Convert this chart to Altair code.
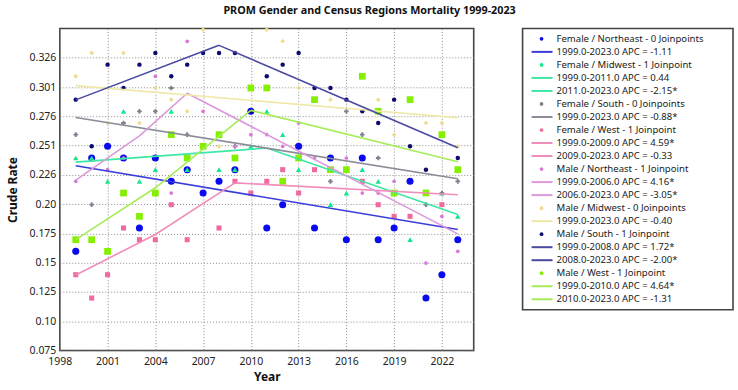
import altair as alt
import pandas as pd

# ---------------- data ----------------
years = list(range(1999, 2024))
series_names = [
    "Female / Northeast", "Female / Midwest", "Female / South", "Female / West",
    "Male / Northeast", "Male / Midwest", "Male / South", "Male / West",
]
female_northeast = [0.16, 0.24, 0.25, 0.24, 0.18, 0.24, 0.22, 0.23, 0.21, 0.22, 0.23, 0.28, 0.18,
                    0.20, 0.25, 0.18, 0.24, 0.17, 0.24, 0.17, 0.18, 0.22, 0.12, 0.14, 0.17]
female_midwest = [0.24, 0.24, 0.22, 0.28, 0.22, 0.23, 0.28, 0.23, None, 0.23, 0.23, 0.25, 0.28,
                  0.26, 0.23, None, 0.20, 0.21, 0.23, 0.22, None, 0.17, None, 0.21, 0.19]
female_south = [0.26, 0.20, None, 0.27, 0.28, 0.28, 0.30, 0.26, None, None, 0.25, None, None,
                None, None, None, 0.22, 0.28, 0.26, 0.24, None, None, 0.20, 0.21, 0.22]
female_west = [0.14, 0.12, 0.14, 0.18, 0.17, 0.17, 0.20, 0.17, None, 0.18, 0.22, 0.21, 0.22,
               0.23, 0.21, 0.23, None, None, 0.22, 0.20, 0.19, 0.19, None, 0.20, None]
male_northeast = [0.22, None, 0.23, 0.24, None, 0.31, 0.21, 0.34, 0.28, None, 0.25, 0.26, 0.26,
                  0.25, 0.27, 0.24, None, 0.24, 0.21, 0.21, 0.22, None, 0.15, 0.19, 0.16]
male_midwest = [0.31, 0.33, 0.27, 0.33, 0.27, 0.30, 0.29, 0.28, 0.35, 0.25, None, None, 0.35,
                0.34, 0.30, None, 0.29, None, None, 0.29, 0.26, None, 0.27, 0.27, 0.25]
male_south = [0.29, 0.25, 0.32, 0.30, 0.32, 0.33, 0.31, 0.32, 0.33, 0.33, 0.33, 0.28, 0.31,
              0.32, 0.33, 0.30, 0.30, 0.29, 0.28, 0.27, 0.29, 0.25, 0.23, None, 0.24]
male_west = [0.17, 0.17, 0.16, 0.21, 0.19, 0.21, 0.26, 0.24, 0.25, 0.26, 0.24, 0.30, 0.30,
             0.22, 0.24, 0.29, 0.23, 0.23, 0.31, 0.28, 0.21, 0.29, 0.21, 0.26, 0.23]
observed = [female_northeast, female_midwest, female_south, female_west,
            male_northeast, male_midwest, male_south, male_west]

# fitted joinpoint segments: (series index, years, values)
trend_segments = [
    (0, [1999, 2023], [0.2334, 0.1787]),
    (1, [1999, 2011], [0.2365, 0.2485]),
    (1, [2011, 2023], [0.2485, 0.1915]),
    (2, [1999, 2023], [0.2747, 0.2222]),
    (3, [1999, 2004, 2009], [0.1397, 0.1745, 0.2187]),
    (3, [2009, 2023], [0.2187, 0.2085]),
    (4, [1999, 2003, 2006], [0.221, 0.259, 0.2955]),
    (4, [2006, 2023], [0.2955, 0.175]),
    (5, [1999, 2023], [0.302, 0.2745]),
    (6, [1999, 2008], [0.2898, 0.3365]),
    (6, [2008, 2023], [0.3365, 0.2488]),
    (7, [1999, 2004, 2010], [0.1701, 0.2145, 0.2808]),
    (7, [2010, 2023], [0.2808, 0.2368]),
]

x_ticks = [1998, 2001, 2004, 2007, 2010, 2013, 2016, 2019, 2022]
y_ticks = [0.075, 0.1001, 0.1252, 0.1503, 0.1754, 0.2004, 0.2256, 0.2506, 0.2757, 0.3008, 0.3259]

legend_labels = [
    "Female / Northeast - 0 Joinpoints", "1999.0-2023.0 APC  =  -1.11",
    "Female / Midwest - 1 Joinpoint", "1999.0-2011.0 APC  =  0.44", "2011.0-2023.0 APC  =  -2.15*",
    "Female / South - 0 Joinpoints", "1999.0-2023.0 APC  =  -0.88*",
    "Female / West - 1 Joinpoint", "1999.0-2009.0 APC  =  4.59*", "2009.0-2023.0 APC  =  -0.33",
    "Male / Northeast - 1 Joinpoint", "1999.0-2006.0 APC  =  4.16*", "2006.0-2023.0 APC  =  -3.05*",
    "Male / Midwest - 0 Joinpoints", "1999.0-2023.0 APC  =  -0.40",
    "Male / South - 1 Joinpoint", "1999.0-2008.0 APC  =  1.72*", "2008.0-2023.0 APC  =  -2.00*",
    "Male / West - 1 Joinpoint", "1999.0-2010.0 APC  =  4.64*", "2010.0-2023.0 APC  =  -1.31",
]
legend_kinds = ["point", "line", "point", "line", "line", "point", "line", "point", "line", "line",
                "point", "line", "line", "point", "line", "point", "line", "line", "point", "line", "line"]
legend_series = [0, 0, 1, 1, 1, 2, 2, 3, 3, 3, 4, 4, 4, 5, 5, 6, 6, 6, 7, 7, 7]

# ---------------- styles ----------------
point_colors = ["#0a0af0", "#14e68c", "#7c8090", "#f06aa2", "#d878d8", "#efdc8c", "#0c0c70", "#84f000"]
line_colors = ["#3c3cd8", "#3ee8a4", "#8a8c98", "#f28cba", "#dc98dc", "#f0e8a8", "#4a4aa2", "#a6ec58"]
point_shapes = ["circle", "triangle-up", "cross", "square", "circle", "diamond", "circle", "square"]
point_sizes = [50, 30, 22, 26, 14, 22, 20, 46]
FONT = "Noto Sans"

# ---------------- tables ----------------
prow = []
for si, vals in enumerate(observed):
    for yr, v in zip(years, vals):
        if v is not None:
            prow.append({"year": yr, "value": v, "sidx": si,
                         "col": point_colors[si], "shp": point_shapes[si], "sz": point_sizes[si]})
points_df = pd.DataFrame(prow)

lrow = []
for k, (si, ys, vs) in enumerate(trend_segments):
    for yr, v in zip(ys, vs):
        lrow.append({"year": yr, "value": v, "seg": k, "col": line_colors[si], "ord": yr})
lines_df = pd.DataFrame(lrow)

legend_df = pd.DataFrame({
    "row": list(range(len(legend_labels))),
    "label": legend_labels,
    "kind": legend_kinds,
    "pcol": [point_colors[s] for s in legend_series],
    "lcol": [line_colors[s] for s in legend_series],
})

# ---------------- main chart ----------------
W, H = 415, 323
xs = alt.X("year:Q", scale=alt.Scale(domain=[1998, 2024], nice=False, zero=False),
           axis=alt.Axis(values=x_ticks, format="d", title="Year", grid=True, tickCount=30,
                         gridDash=[1, 2], gridColor="#8c8c8c", gridWidth=1,
                         ticks=False, domain=False, labelPadding=6, titlePadding=5,
                         labelFlush=False, labelOverlap=False,
                         labelFont=FONT, labelFontSize=10.5, labelColor="#222",
                         titleFont=FONT, titleFontSize=12, titleFontWeight="bold", titleColor="#111"))
ys = alt.Y("value:Q", scale=alt.Scale(domain=[0.075, 0.351], nice=False, zero=False),
           axis=alt.Axis(values=y_ticks, tickCount=30,
                         labelExpr="substring(format(datum.value,'.3f'),4,5)=='0' ? format(datum.value,'.2f') : format(datum.value,'.3f')",
                         title="Crude Rate", grid=True,
                         gridDash=[1, 2], gridColor="#8c8c8c", gridWidth=1,
                         ticks=False, domain=False, labelPadding=4, titlePadding=10,
                         labelFlush=False, labelOverlap=False,
                         labelFont=FONT, labelFontSize=10.5, labelColor="#222",
                         titleFont=FONT, titleFontSize=12, titleFontWeight="bold", titleColor="#111"))

pts = alt.Chart(points_df).mark_point(filled=True, opacity=1).encode(
    x=xs, y=ys,
    color=alt.Color("col:N", scale=None),
    shape=alt.Shape("shp:N", scale=None),
    size=alt.Size("sz:Q", scale=None),
    order=alt.Order("sidx:Q"),
)
lns = alt.Chart(lines_df).mark_line(strokeWidth=1.6).encode(
    x="year:Q", y="value:Q",
    detail="seg:N",
    color=alt.Color("col:N", scale=None),
    order="ord:Q",
)
main = alt.layer(pts, lns).properties(width=W, height=H)

# ---------------- legend ----------------
LH = 282
lbase = alt.Chart(legend_df).encode(
    y=alt.Y("row:O", axis=None, scale=alt.Scale(paddingOuter=0.3, paddingInner=0)))
leg_pts = lbase.transform_filter("datum.kind == 'point'").mark_point(
    filled=True, size=14, opacity=1).encode(x=alt.value(19), color=alt.Color("pcol:N", scale=None))
leg_lns = lbase.transform_filter("datum.kind == 'line'").mark_rule(strokeWidth=2).encode(
    x=alt.value(9), x2=alt.value(30), color=alt.Color("lcol:N", scale=None))
leg_txt = lbase.mark_text(align="left", baseline="middle", font=FONT, fontSize=9.6, color="#222").encode(
    x=alt.value(34), text="label:N")
legend = alt.layer(leg_pts, leg_lns, leg_txt).properties(width=211, height=LH)

chart = alt.hconcat(main, legend, spacing=47).properties(
    title=alt.TitleParams("PROM Gender and Census Regions Mortality 1999-2023",
                          anchor="middle", font=FONT, fontSize=10.8, fontWeight="bold",
                          color="#111", offset=11),
    padding={"left": 5, "top": 4, "right": 4, "bottom": 2},
    background="white",
).configure_view(stroke="#444", strokeWidth=1.6)

chart.save("out.html", embed_options={"renderer": "svg", "actions": False})
